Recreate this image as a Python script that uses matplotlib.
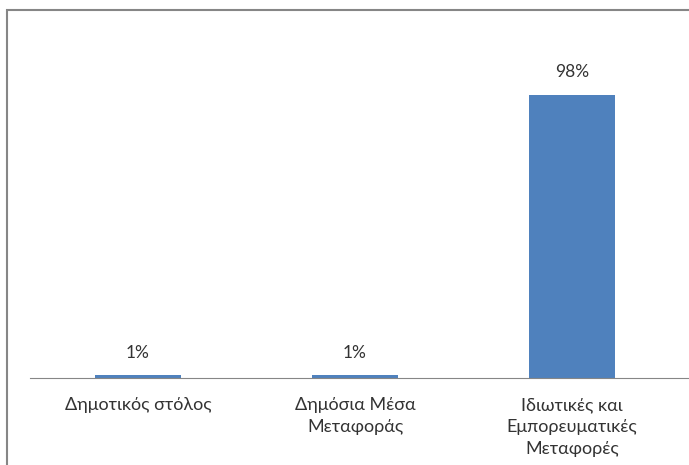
import matplotlib.pyplot as plt
from matplotlib.patches import Rectangle

categories = ["Δημοτικός στόλος", "Δημόσια Μέσα\nΜεταφοράς", "Ιδιωτικές και\nΕμπορευματικές\nΜεταφορές"]
shares = [1, 1, 98]
share_labels = ["1%", "1%", "98%"]

plt.rcParams['font.family'] = ['Lato', 'DejaVu Sans']

W, H = 689, 465
fig = plt.figure(figsize=(W / 100, H / 100), dpi=100)

# gray outer frame, runs off the right and bottom edges
fig.patches.append(Rectangle((7 / W, -0.1), 1.2, (H - 10) / H + 0.1, transform=fig.transFigure,
                             fill=False, edgecolor='#868686', linewidth=1.5))

ax = fig.add_axes([29.5 / W, (H - 378) / H, (W - 29.5) / W, (378 - 10) / H])
x = range(len(categories))
bars = ax.bar(x, shares, width=0.4, color='#4F81BD')
for b, lab in zip(bars, share_labels):
    ax.text(b.get_x() + b.get_width() / 2, b.get_height() + 5, lab,
            ha='center', va='bottom', fontsize=12.5, color='#333333')

ax.set_xlim(-0.5, 2.5 + 8.5 / 217)
ax.set_ylim(0, 127.4)
for s in ['top', 'left', 'right']:
    ax.spines[s].set_visible(False)
ax.spines['bottom'].set_color('#868686')
ax.set_yticks([])
ax.set_xticks(list(x))
ax.set_xticklabels(categories, fontsize=13, color='#333333', linespacing=1.45)
ax.tick_params(axis='x', length=0, pad=14)
ax.patch.set_alpha(0)

fig.savefig('out.png', dpi=100)
